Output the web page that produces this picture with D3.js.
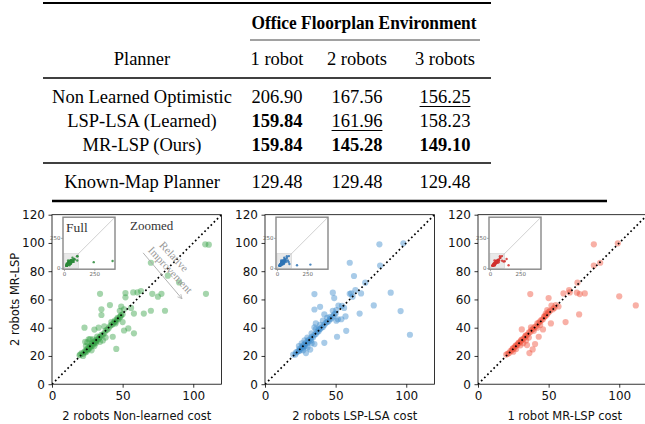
<!DOCTYPE html>
<html><head><meta charset="utf-8">
<script src="https://cdn.jsdelivr.net/npm/d3@7"></script>
<style>body{margin:0;background:#fff}svg{display:block}</style>
</head><body><svg id="c" width="645" height="424"></svg>
<script>
// ---------------- data ----------------
const tableTitle = "Office Floorplan Environment";
const robotCols = ["1 robot", "2 robots", "3 robots"];
const planners = ["Non Learned Optimistic", "LSP-LSA (Learned)", "MR-LSP (Ours)", "Known-Map Planner"];
const cost1Robot  = [206.90, 159.84, 159.84, 129.48];
const cost2Robots = [167.56, 161.96, 145.28, 129.48];
const cost3Robots = [156.25, 158.23, 149.10, 129.48];

const axisTicksX = [0, 50, 100];
const axisTicksY = [0, 20, 40, 60, 80, 100, 120];
const insetTicks = [0, 250];

// plot 1: x = 2 robots Non-learned cost, y = 2 robots MR-LSP
const nonLearnedVsMRLSP = [
  [34,64],[52,64.5],[52,61.5],[57.5,65],[60.5,65],[63,66],[71,64],[75,62],[77.5,64],[80,52],
  [41,56],[35,53],[35,49],[48,52],[49,55],[51,53],[56,54],[58,50],[65,50],[70,52],
  [23,40],[30,38.7],[33,40],[37,41],[42,44],[45,43],[50,44],[51,38],[54,39.5],[58,36],
  [43,33.6],[45.5,25],[108.5,99],[111,98.8],[82,76.8],[109,64],[70,86],[90,72],
  [20,21],[21,22],[22,21.5],[23,23],[23.5,22.5],[24,24],[24.5,23],[25,25],[25.5,24.5],[26,26],
  [26,25],[27,27],[27,26],[27.5,28],[28,27],[28.5,29],[29,28],[29.5,30],[30,29],[30.5,30.5],
  [31,30],[31.5,31.5],[32,31],[33,32],[33.5,33],[34,33.5],[35,35],[36,35],[37,36],[38,38],
  [39,38.5],[40,39.5],[41,41],[42,42],[43,42.5],[44,44],[44.5,45],[45,44],[46,46],[46.5,47],
  [47,46],[48,47.5],[48.5,48],[49,49],[50,49.5],[24,27],[25,29.6],[26,31.7],[23.5,30],[29,31.7],
  [32,33.7],[27,32],[28,24],[30,27],[34,30],[36,31],[38,33],[31,29],[22,20],[19.5,20.5]
];
const nonLearnedOutliers = [[245,50],[400,60]];

// plot 2: x = 2 robots LSP-LSA cost, y = 2 robots MR-LSP
const lspLsaVsMRLSP = [
  [63,76.6],[35,63.8],[48,64.8],[49,61],[61,64.3],[64,66.6],[68,64.3],[71,71.9],[89,64.8],[77,55.8],
  [96,51.8],[102.6,35],[35,52.9],[39,54.8],[42,49.4],[46,47.7],[48,52],[50.5,52.5],[52,55.7],[54.5,55.5],
  [56,54],[50.5,45],[51.6,46],[54,46],[57,48],[67,50],[57.5,37.8],[51,33.6],[36,43],[35,40.2],
  [38,38.8],[39,42],[42,29.3],[29,22],[32,24.5],[35,28.4],[81,99],[98,99.7],[60,86],[81.5,84],
  [62,62],[60,64],
  [20,21],[21.5,21],[22,22.5],[23,23],[24,23.5],[24.5,25],[25,24],[26,26],[26.5,25.5],[27,27.5],
  [27.5,26.5],[28,28],[28.5,27],[29,29.5],[30,29],[30.5,31],[31,30],[32,32],[32.5,31],[33,33.5],
  [34,33],[35,35],[36,35.5],[37,37],[38,37.5],[39,39],[40,40],[41,40.5],[42,42],[43,43.5],
  [44,44],[45,44.5],[46,46],[47,46.5],[48,48],[49,49.5],[50,50],[24,27],[26,29],[28,31],
  [30,33],[33,36],[36,39],[27,24],[30,26],[33,29],[44,47],[41,45]
];
const lspLsaOutliers = [[165,25],[275,30]];

// plot 3: x = 1 robot MR-LSP cost, y = 2 robots MR-LSP
const oneRobotVsMRLSP = [
  [37,63.8],[50,61],[60.5,64.3],[64.5,66.6],[70.4,71.9],[70,64.8],[72,63.8],[75.6,64.3],[100,62.2],[111.7,55.8],
  [71.6,49.4],[62,44],[57,55],[52,55.7],[54,54],[49,52.5],[48,50],[47,47.7],[51.6,43],[46,38.8],
  [43,33.6],[31,38.8],[37.5,40.2],[39.5,37.8],[40.4,28.4],[38.7,24.6],[36.4,22],[34.7,27.7],[82,99],[99,99.7],
  [82,84],[86.5,86],[65,65],[55,56],
  [20,21],[21,21.5],[22,22],[23,23.5],[24,24],[24.5,25],[25,25.5],[26,26],[26.5,27],[27,27.5],
  [28,28],[28.5,29],[29,29.5],[30,30],[30.5,31],[31,31.5],[32,32],[33,33],[33.5,34],[34,34.5],
  [35,35],[36,36.5],[37,37],[38,38.5],[39,39],[40,40.5],[41,41],[42,43],[43,43.5],[44,44.5],
  [45,45.5],[46,46],[47,48],[48,48.5],[49,49.5],[50,51],[51,52],[53,53],[44,42],[42,40],
  [36,33],[34,31],[32,29],[30,27.5],[27,25],[25,23]
];
const oneRobotOutliers = [[137,76],[153,25],[122,58]];

const plots = [
  {pts: nonLearnedVsMRLSP, extra: nonLearnedOutliers, color: "#37a246", inset: "#2b8a3a",
   xLabel: "2 robots Non-learned cost", yLabel: "2 robots MR-LSP", full: true, labelShift: 0},
  {pts: lspLsaVsMRLSP, extra: lspLsaOutliers, color: "#3f8ccb", inset: "#2f74b5",
   xLabel: "2 robots LSP-LSA cost", yLabel: null, full: false, labelShift: 5},
  {pts: oneRobotVsMRLSP, extra: oneRobotOutliers, color: "#f0503a", inset: "#d2312f",
   xLabel: "1 robot MR-LSP cost", yLabel: null, full: false, labelShift: 2}
];

// annotation in data coords of plot 1
const arrowFrom = [64.5, 93], arrowTo = [92, 60.5];
const relLines = [["Relative", 86.5, 90.5], ["Improvement", 84, 81]];

// ---------------- draw ----------------
const svg = d3.select("#c");
const serif = "'Liberation Serif','Times New Roman',serif";
const sans = "'DejaVu Sans',sans-serif";

// Table
const T = svg.append("g");
const rule = (x1, x2, yy, w, c) => T.append("line").attr("x1", x1).attr("x2", x2).attr("y1", yy).attr("y2", yy)
  .attr("stroke", c || "#000").attr("stroke-width", w);
rule(43, 491, 3, 2);
rule(250, 480, 40, 1, "#444");
rule(43, 491, 78, 1.3);
rule(43, 491, 163, 1.3);
rule(52, 607, 201, 2.5);

const colCenters = [277, 357, 445];
const planX = 142;
const rowY = [97, 121, 145, 182];
const tfs = 18.5;

T.append("text").attr("x", 364).attr("y", 23).attr("text-anchor", "middle").attr("dominant-baseline", "central")
  .attr("font-family", serif).attr("font-weight", "bold").attr("font-size", 18).attr("textLength", 225)
  .attr("lengthAdjust", "spacingAndGlyphs").text(tableTitle);
T.append("text").attr("x", planX).attr("y", 59).attr("text-anchor", "middle").attr("dominant-baseline", "central")
  .attr("font-family", serif).attr("font-size", tfs).text("Planner");
robotCols.forEach((c, i) => T.append("text").attr("x", colCenters[i]).attr("y", 59).attr("text-anchor", "middle")
  .attr("dominant-baseline", "central").attr("font-family", serif).attr("font-size", tfs).text(c));

const cols = [cost1Robot, cost2Robots, cost3Robots];
planners.forEach((p, r) => {
  T.append("text").attr("x", planX).attr("y", rowY[r]).attr("text-anchor", "middle").attr("dominant-baseline", "central")
    .attr("font-family", serif).attr("font-size", tfs).text(p);
});
cols.forEach((vals, c) => {
  const learned = vals.slice(0, 3);
  const mn = d3.min(learned);
  const uniq = Array.from(new Set(learned)).sort((a, b) => a - b);
  const minCount = learned.filter(v => v === mn).length;
  vals.forEach((v, r) => {
    const bold = r < 3 && v === mn;
    const under = r < 3 && minCount === 1 && v === uniq[1];
    const t = T.append("text").attr("x", colCenters[c]).attr("y", rowY[r]).attr("text-anchor", "middle")
      .attr("dominant-baseline", "central").attr("font-family", serif).attr("font-size", tfs)
      .attr("font-weight", bold ? "bold" : "normal").text(v.toFixed(2));
    if (under) {
      const w = t.node().getComputedTextLength();
      rule(colCenters[c] - w / 2, colCenters[c] + w / 2, rowY[r] + 9.5, 1);
    }
  });
});

// Scatter plots
const size = 169.5, topY = 214.7, left0 = 52, step = 213;
const x = d3.scaleLinear().domain([0, 120]).range([0, size]);
const y = d3.scaleLinear().domain([0, 120]).range([size, 0]);
const insetSize = 52;
const xi = d3.scaleLinear().domain([-8, 420]).range([0, insetSize]);
const yi = d3.scaleLinear().domain([-8, 420]).range([insetSize, 0]);

const defs = svg.append("defs");
defs.append("marker").attr("id", "ah").attr("viewBox", "0 0 10 10").attr("refX", 9).attr("refY", 5)
  .attr("markerWidth", 6).attr("markerHeight", 6).attr("orient", "auto")
  .append("path").attr("d", "M1,1 L9,5 L1,9").attr("fill", "none").attr("stroke", "#aaa").attr("stroke-width", 1.2);

plots.forEach((P, k) => {
  const g = svg.append("g").attr("transform", `translate(${left0 + k * step},${topY})`);
  const clipId = "clip" + k;
  defs.append("clipPath").attr("id", clipId).append("rect").attr("width", size).attr("height", size);

  const inner = g.append("g").attr("clip-path", `url(#${clipId})`);
  inner.selectAll("circle").data(P.pts).join("circle")
    .attr("cx", d => x(d[0])).attr("cy", d => y(d[1])).attr("r", 3.1)
    .attr("fill", P.color).attr("fill-opacity", 0.45);
  inner.append("line").attr("x1", x(0)).attr("y1", y(0)).attr("x2", x(120)).attr("y2", y(120))
    .attr("stroke", "#000").attr("stroke-width", 1.7).attr("stroke-dasharray", "1.7,2.7");

  // axes
  const ax = g.append("g").attr("transform", `translate(0,${size})`)
    .call(d3.axisBottom(x).tickValues(axisTicksX).tickSize(3.5).tickPadding(3.5).tickFormat(d3.format("d")));
  const ay = g.append("g").call(d3.axisLeft(y).tickValues(axisTicksY).tickSize(3.5).tickPadding(3.5).tickFormat(d3.format("d")));
  [ax, ay].forEach(a => {
    a.select(".domain").remove();
    a.selectAll("line").attr("stroke", "#000").attr("stroke-width", 0.8);
    a.selectAll("text").attr("font-family", sans).attr("font-size", 12).attr("fill", "#111");
  });
  g.append("rect").attr("width", size).attr("height", size).attr("fill", "none").attr("stroke", "#000").attr("stroke-width", 0.8);

  g.append("text").attr("x", size / 2 + P.labelShift).attr("y", 201.5).attr("text-anchor", "middle")
    .attr("dominant-baseline", "central").attr("font-family", sans).attr("font-size", 11.5).attr("fill", "#111").text(P.xLabel);
  if (P.yLabel) {
    g.append("text").attr("transform", `translate(${-37},${size / 2}) rotate(-90)`).attr("text-anchor", "middle")
      .attr("dominant-baseline", "central").attr("font-family", sans).attr("font-size", 11.5).attr("fill", "#111").text(P.yLabel);
  }

  // inset
  const ig = g.append("g").attr("transform", `translate(11,2.5)`);
  ig.append("rect").attr("width", insetSize).attr("height", insetSize).attr("fill", "#fff");
  ig.append("rect").attr("x", xi(0)).attr("y", yi(120)).attr("width", xi(120) - xi(0)).attr("height", yi(0) - yi(120))
    .attr("fill", "#e9e9e9").attr("stroke", "#d0d0d0").attr("stroke-width", 0.6);
  ig.append("line").attr("x1", xi(0)).attr("y1", yi(0)).attr("x2", xi(420)).attr("y2", yi(420))
    .attr("stroke", "#c4c4c4").attr("stroke-width", 0.8);
  ig.selectAll("circle").data(P.pts.concat(P.extra)).join("circle")
    .attr("cx", d => xi(d[0])).attr("cy", d => yi(d[1])).attr("r", 1.2)
    .attr("fill", P.inset).attr("fill-opacity", 0.85);
  const iax = ig.append("g").attr("transform", `translate(0,${insetSize})`)
    .call(d3.axisBottom(xi).tickValues(insetTicks).tickSize(2).tickPadding(0.5));
  const iay = ig.append("g").call(d3.axisLeft(yi).tickValues(insetTicks).tickSize(2).tickPadding(0.5));
  [iax, iay].forEach(a => {
    a.select(".domain").remove();
    a.selectAll("line").attr("stroke", "#777").attr("stroke-width", 0.6);
    a.selectAll("text").attr("font-family", sans).attr("font-size", 5.5).attr("fill", "#666");
  });
  ig.append("rect").attr("width", insetSize).attr("height", insetSize).attr("fill", "none")
    .attr("stroke", "#888").attr("stroke-width", 1.4);
  if (P.full) {
    ig.append("text").attr("x", 3).attr("y", 10).attr("dominant-baseline", "central")
      .attr("font-family", serif).attr("font-size", 13.5).attr("fill", "#333").text("Full");
    g.append("text").attr("x", 78).attr("y", 10.5).attr("dominant-baseline", "central")
      .attr("font-family", serif).attr("font-size", 13).attr("fill", "#333").text("Zoomed");

    g.append("line").attr("x1", x(arrowFrom[0])).attr("y1", y(arrowFrom[1])).attr("x2", x(arrowTo[0])).attr("y2", y(arrowTo[1]))
      .attr("stroke", "#aaa").attr("stroke-width", 0.9).attr("marker-end", "url(#ah)");
    relLines.forEach(([txt, dx, dy]) => {
      g.append("text").attr("transform", `translate(${x(dx)},${y(dy)}) rotate(47)`).attr("text-anchor", "middle")
        .attr("dominant-baseline", "central").attr("font-family", serif).attr("font-size", 11).attr("fill", "#999").text(txt);
    });
  }
});
</script></body></html>
